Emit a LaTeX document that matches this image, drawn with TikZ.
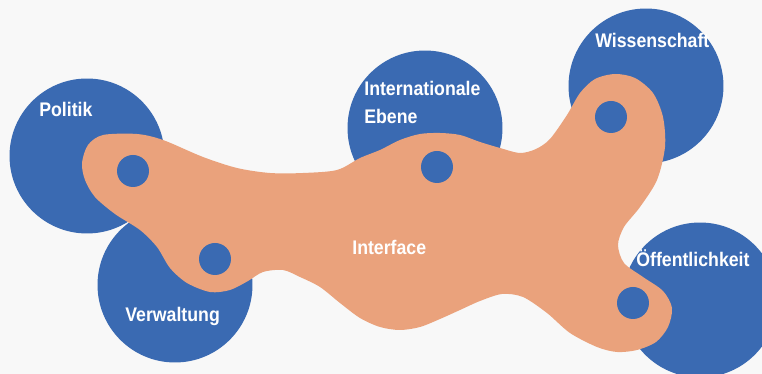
\documentclass[tikz,border=0pt]{standalone}
\usepackage{fontspec}
\newfontfamily\etikettfont{Liberation Sans Bold}[FakeStretch=0.9]
\usetikzlibrary{positioning}
\definecolor{kreisblau}{RGB}{58,106,178}
\definecolor{lachs}{RGB}{234,162,124}
\definecolor{papier}{RGB}{248,248,248}

\begin{document}
\begin{tikzpicture}[
    x=0.02cm, y=-0.02cm,
    font=\etikettfont\fontsize{11.2}{16}\selectfont,
    kreis/.style={
      circle, fill=kreisblau, inner sep=0pt, minimum size=3.1cm
    },
    punkt/.style={
      circle, fill=kreisblau, inner sep=0pt, minimum size=0.64cm
    },
    etikett/.style={
      text=white, align=left, inner sep=0pt, anchor=base west
    }
  ]
    % --- Hintergrund ---
    \fill[papier] (0,0) rectangle (762,374);
    \useasboundingbox (0,0) rectangle (762,374);

    % --- Bereiche ---
    \node[kreis] (politik) at (87,156) {};
    \node[kreis] (verwaltung) at (175,285) {};
    \node[kreis] (international) at (425,128) {};
    \node[kreis] (wissenschaft) at (646,86) {};
    \node[kreis] (oeffentlich) at (700,300) {};

    % --- Interface (Fläche) ---
    \fill[lachs] plot[smooth cycle, tension=0.5] coordinates {
      (82,163) (88,145) (103,135) (137,134) (163,140) (203,157)
      (237,168) (270,173) (303,173) (337,170) (360,158) (380,150)
      (400,140) (420,134) (440,133) (460,135) (480,142) (500,148)
      (520,153) (536,149) (550,139)
      (567,115) (580,93) (595,79) (615,74) (635,78) (653,93)
      (663,117) (665,147) (657,180) (640,207) (624,227) (618,245)
      (624,263) (643,277) (663,291) (672,308) (668,327) (656,342)
      (637,350) (617,352) (597,347) (570,333) (547,313) (523,297)
      (502,294) (480,301) (460,310) (440,319) (420,327) (400,330)
      (380,327) (360,318) (340,303) (320,287) (300,277) (283,270)
      (263,272) (248,281) (230,290)
      (210,292) (187,283) (170,268) (157,247) (140,230) (115,214)
      (95,197) (85,180)};

    % --- Andockpunkte ---
    \node[punkt] (ppolitik) at (133,171) {};
    \node[punkt] (pverwaltung) at (215,259) {};
    \node[punkt] (pinternational) at (437,167) {};
    \node[punkt] (pwissenschaft) at (611,117) {};
    \node[punkt] (poeffentlich) at (633,303) {};

    % --- Beschriftungen ---
    \node[etikett] (lpolitik) at (39,117) {Politik};
    \node[etikett] (lverwaltung) at (125,322) {Verwaltung};
    \node[etikett] (linternational) at (364,124) {Internationale\\Ebene};
    \node[etikett] (lwissenschaft) at (595,48) {Wissenschaft};
    \node[etikett] (loeffentlich) at (636,267) {Öffentlichkeit};
    \node[etikett] (linterface) at (352,255) {Interface};
  \end{tikzpicture}
\end{document}
